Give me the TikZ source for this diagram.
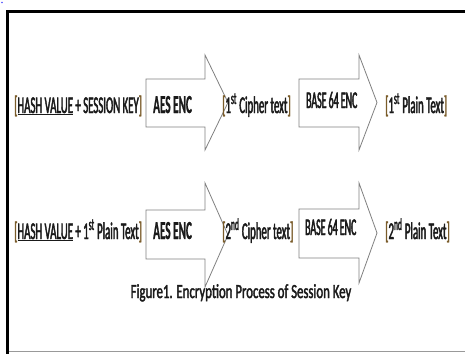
\documentclass[tikz,border=0pt]{standalone}
\usepackage{fontspec}
\newfontfamily\cf[FakeStretch=0.45,FakeBold=1.8]{Carlito}
\newfontfamily\cfb[FakeStretch=0.43,FakeBold=0.8]{Carlito}
\newfontfamily\cfs[FakeStretch=0.41,FakeBold=1.8]{Carlito}
\newfontfamily\cfcap[FakeStretch=0.64,FakeBold=1.8]{Carlito}
\definecolor{txt}{HTML}{1A1A1A}
\definecolor{brk}{HTML}{7A5C2A}
\definecolor{arrowline}{HTML}{808080}
\newcommand{\lb}{{\color{brk}[}}
\newcommand{\rb}{{\color{brk}]}}
\begin{document}
\begin{tikzpicture}[x=1pt,y=-1pt,
  lbl/.style={inner sep=0pt,text=txt,font=\cf\fontsize{24}{26}\selectfont,anchor=base west},
  enc/.style={inner sep=0pt,text=txt,font=\cfb\bfseries\fontsize{26}{28}\selectfont,anchor=base west},
  b64/.style={inner sep=0pt,text=txt,font=\cfs\fontsize{24}{26}\selectfont,anchor=base west},
  blockarrow/.style={draw=arrowline,line width=0.8pt,fill=white,line join=miter},
  captext/.style={inner sep=0pt,text=txt,font=\cfcap\fontsize{20}{24}\selectfont,anchor=base}]
\useasboundingbox (0,0) rectangle (465,353);
\begin{scope}
\clip (0,0) rectangle (465,353);
\fill[white] (0,0) rectangle (465,353);
\fill[blue!70] (2,2.5) circle (0.8);
\draw[gray!80,line width=1.5pt] (7.5,351.6) -- (475,351.6);
\draw[black,line width=3.2pt] (7.5,360) -- (7.5,11.5) -- (475,11.5);
\end{scope}
% row 1 arrows
\draw[blockarrow] (146,79) -- (205,79) -- (205,55) -- (228,102.5) -- (205,150) -- (205,127) -- (146,127) -- cycle;
\draw[blockarrow] (299,79) -- (359,79) -- (359,55) -- (377,102.5) -- (359,150) -- (359,127) -- (299,127) -- cycle;
% row 2 arrows
\draw[blockarrow] (146,210) -- (205,210) -- (205,183) -- (228,235) -- (205,287) -- (205,259) -- (146,259) -- cycle;
\draw[blockarrow] (299,209) -- (359,209) -- (359,183) -- (377,233) -- (359,283) -- (359,258) -- (299,258) -- cycle;
% row 1 texts
\node[lbl] (in1) at (14,113) {\lb\underline{HASH VALUE} + SESSION KEY\rb};
\node[enc] (aes1) at (153,113) {AES ENC};
\node[lbl] (c1) at (222,113) {\lb1\textsuperscript{st} Cipher text\rb};
\node[b64] (b1) at (306,108) {BASE 64 ENC};
\node[lbl] (p1) at (385,113) {\lb1\textsuperscript{st} Plain Text\rb};
% row 2 texts
\node[lbl] (in2) at (14,239) {\lb\underline{HASH VALUE} + 1\textsuperscript{st} Plain Text\rb};
\node[enc] (aes2) at (153,239) {AES ENC};
\node[lbl] (c2) at (222,239) {\lb2\textsuperscript{nd} Cipher text\rb};
\node[b64] (b2) at (305,235) {BASE 64 ENC};
\node[lbl] (p2) at (385,239) {\lb2\textsuperscript{nd} Plain Text\rb};
% caption
\node[captext] (caption) at (241,298) {Figure1. Encryption Process of Session Key};
\end{tikzpicture}
\end{document}
